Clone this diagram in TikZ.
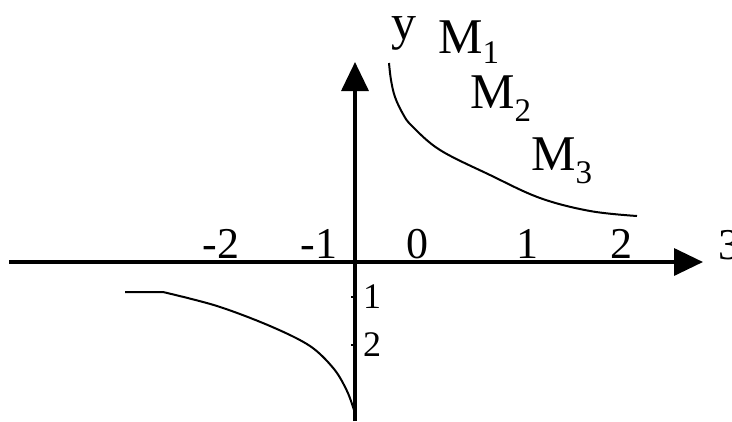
\documentclass[tikz,border=0pt]{standalone}
\usepackage{fontspec}
\setmainfont{Liberation Serif}
\usetikzlibrary{arrows.meta}
\begin{document}
\begin{tikzpicture}[x=1pt,y=-1pt,
  axis/.style={line width=3.5pt,-{Triangle[length=29pt,width=27pt]}},
  branch/.style={line width=2pt,line join=round},
  ticklbl/.style={inner sep=0pt,anchor=base,font=\fontsize{44}{44}\selectfont},
  vlbl/.style={inner sep=0pt,anchor=base west,font=\fontsize{36}{36}\selectfont},
  mlbl/.style={inner sep=0pt,anchor=base west,font=\fontsize{50}{50}\selectfont}]
\clip (0,0) rectangle (732,421);
\fill[white] (0,0) rectangle (732,421);
% axes
\coordinate (xs) at (9,262);
\coordinate (xe) at (703,262);
\coordinate (ys) at (355,421);
\coordinate (ye) at (355,62);
\draw[axis] (xs) -- (xe);
\draw[axis] (ys) -- (ye);
% ticks on y axis
\coordinate (t1a) at (351,297); \coordinate (t1b) at (355,297);
\coordinate (t2a) at (351,345); \coordinate (t2b) at (355,345);
\draw[line width=2pt] (t1a) -- (t1b);
\draw[line width=2pt] (t2a) -- (t2b);
% tick labels on x axis
\node[ticklbl] (lm2) at (221,258) {-2};
\node[ticklbl] (lm1) at (319,258) {-1};
\node[ticklbl] (l0) at (417,258) {0};
\node[ticklbl] (l1) at (527,258) {1};
\node[ticklbl] (l2) at (621,258) {2};
\node[inner sep=0pt,anchor=base west,font=\fontsize{44}{44}\selectfont] (lx) at (718,259) {3};
% tick labels on y axis
\node[vlbl] (ly1) at (363,308) {1};
\node[vlbl] (ly2) at (363,356) {2};
% axis name
\node[mlbl] (ly) at (391,39) {y};
% M labels
\node[mlbl] (m1) at (438,53) {M\raisebox{-10pt}{\fontsize{33}{33}\selectfont 1}};
\node[mlbl] (m2) at (470,108) {M\raisebox{-13pt}{\fontsize{33}{33}\selectfont 2}};
\node[mlbl] (m3) at (531,170) {M\raisebox{-13pt}{\fontsize{33}{33}\selectfont 3}};
% branches
\draw[branch] plot[smooth,tension=0.6] coordinates {(389,63) (391,80) (395,97) (403,114) (412,126) (440,150) (490,175) (540,198) (590,211) (637,216)};
\draw[branch] (125,292) -- (163,292) plot[smooth,tension=0.55] coordinates {(163,292) (217,306) (270,326) (310,346) (334,369) (347,391) (354,410)};
\end{tikzpicture}
\end{document}
